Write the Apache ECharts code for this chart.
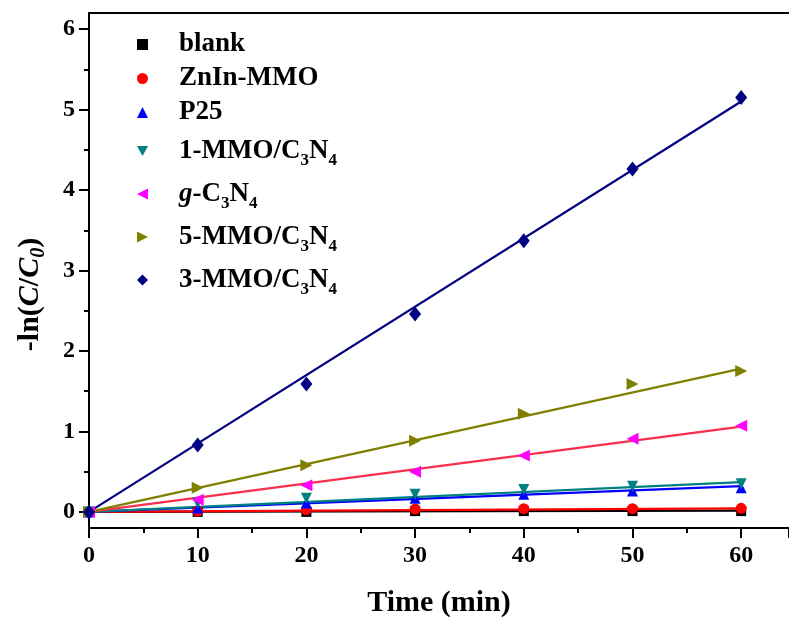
<!DOCTYPE html>
<html>
<head>
<meta charset="utf-8">
<script src="https://cdn.jsdelivr.net/npm/echarts@6/dist/echarts.min.js"></script>
<style>html,body{margin:0;padding:0;background:#fff}#c{width:789px;height:623px}</style>
</head>
<body>
<div id="c"></div>
<script>
const time = [0, 10, 20, 30, 40, 50, 60];
const names = ['blank', 'ZnIn-MMO', 'P25', '1-MMO/C3N4', 'g-C3N4', '5-MMO/C3N4', '3-MMO/C3N4'];
const blank = [0, 0.00, 0.00, 0.01, 0.01, 0.01, 0.01];
const zninMMO = [0, 0.01, 0.03, 0.035, 0.04, 0.04, 0.045];
const p25 = [0, 0.05, 0.11, 0.17, 0.22, 0.26, 0.30];
const mmo1 = [0, 0.11, 0.17, 0.22, 0.28, 0.32, 0.35];
const gC3N4 = [0, 0.15, 0.33, 0.50, 0.70, 0.91, 1.07];
const mmo5 = [0, 0.30, 0.58, 0.885, 1.22, 1.59, 1.75];
const mmo3 = [0, 0.83, 1.59, 2.46, 3.37, 4.26, 5.15];
// linear fit lines (through origin): value at t = 0 and t = 60
const fitX = [0, 60];
const fitEnd = [0.015, 0.045, 0.32, 0.37, 1.06, 1.78, 5.10];
const yTicks = [0, 1, 2, 3, 4, 5, 6];
const yMinorTicks = [0.5, 1.5, 2.5, 3.5, 4.5, 5.5];

const values = [blank, zninMMO, p25, mmo1, gC3N4, mmo5, mmo3];
const markColors = ['#000000', '#ff0000', '#0000ff', '#008080', '#ff00ff', '#808000', '#000080'];
const lineColors = ['#000000', '#ff0000', '#0000ff', '#008080', '#f8304e', '#808000', '#000080'];
const symbols = ['rect', 'circle', 'triangle', 'path://M0,0L10,0L5,9Z', 'path://M10,0L10,10L0,5Z', 'path://M0,0L0,10L10,5Z', 'diamond'];
const sizes = [10, 11, 11, 11, 12, 12, [12, 15]];
const labelMap = {
  'blank': 'blank',
  'ZnIn-MMO': 'ZnIn-MMO',
  'P25': 'P25',
  '1-MMO/C3N4': '1-MMO/C{sub|3}N{sub|4}',
  'g-C3N4': '{it|g}-C{sub|3}N{sub|4}',
  '5-MMO/C3N4': '5-MMO/C{sub|3}N{sub|4}',
  '3-MMO/C3N4': '3-MMO/C{sub|3}N{sub|4}'
};
const FONT = 'Liberation Serif';

const series = [];
names.forEach((n, i) => {
  series.push({
    name: n + ' fit', type: 'line', xAxisIndex: 0, yAxisIndex: 0,
    data: fitX.map((x, k) => [x, k === 0 ? 0 : fitEnd[i]]),
    showSymbol: false, symbol: 'none', silent: true,
    lineStyle: { color: lineColors[i], width: 2.2 }, z: 2
  });
});
names.forEach((n, i) => {
  series.push({
    name: n, type: 'scatter', xAxisIndex: 0, yAxisIndex: 0,
    data: time.map((t, k) => [t, values[i][k]]),
    symbol: symbols[i], symbolSize: sizes[i],
    itemStyle: { color: markColors[i], opacity: 1 }, z: 3
  });
});

const legendData = names.map(n => labelMap[n].indexOf('{sub|') >= 0
  ? { name: n, textStyle: { lineHeight: 36 } }
  : { name: n });

const chart = echarts.init(document.getElementById('c'), null, { renderer: 'canvas' });
chart.setOption({
  animation: false,
  backgroundColor: '#fff',
  grid: { left: 89, right: 0, top: 13, bottom: 93, containLabel: false },
  legend: {
    orient: 'vertical', left: 132, top: 26,
    itemWidth: 11, itemHeight: 11, itemGap: 7,
    symbolKeepAspect: true,
    data: legendData,
    formatter: n => labelMap[n],
    textStyle: {
      fontFamily: FONT, fontWeight: 'bold', fontSize: 27, lineHeight: 24, color: '#000',
      padding: [0, 0, 0, 26],
      rich: {
        sub: { fontFamily: FONT, fontWeight: 'bold', fontSize: 17, padding: [21, 0, 2, 0], color: '#000' },
        it: { fontFamily: FONT, fontWeight: 'bold', fontStyle: 'italic', fontSize: 27, lineHeight: 24, color: '#000' }
      }
    }
  },
  xAxis: [{
    type: 'value', min: 0, max: 64.4, interval: 10, position: 'bottom',
    name: 'Time (min)', nameLocation: 'middle', nameGap: 60,
    nameTextStyle: { fontFamily: FONT, fontWeight: 'bold', fontSize: 30, color: '#000' },
    axisLine: { show: true, onZero: false, lineStyle: { color: '#000', width: 2 } },
    axisTick: { show: true, inside: false, length: 10, lineStyle: { color: '#000', width: 2 } },
    minorTick: { show: true, splitNumber: 2, length: 5, lineStyle: { color: '#000', width: 2 } },
    splitLine: { show: false },
    axisLabel: { show: true, margin: 16, fontFamily: FONT, fontWeight: 'bold', fontSize: 24, color: '#000',
      formatter: v => (v > 60 ? '' : String(v)), showMaxLabel: false }
  }, {
    type: 'value', min: 0, max: 64.4, position: 'top',
    axisLine: { show: true, onZero: false, lineStyle: { color: '#000', width: 2 } },
    axisTick: { show: false }, axisLabel: { show: false }, splitLine: { show: false }
  }],
  yAxis: [{
    type: 'value', min: -0.2, max: 6.2, position: 'left',
    name: '-ln({it|C}/{it|C}{itsub|0})', nameLocation: 'middle', nameRotate: 90, nameGap: 40,
    nameTextStyle: {
      fontFamily: FONT, fontWeight: 'bold', fontSize: 30, color: '#000', padding: [0, 48, 0, 0],
      rich: {
        it: { fontFamily: FONT, fontWeight: 'bold', fontStyle: 'italic', fontSize: 30, color: '#000' },
        itsub: { fontFamily: FONT, fontWeight: 'bold', fontStyle: 'italic', fontSize: 20, padding: [18, 0, 0, 0], color: '#000' }
      }
    },
    axisLine: { show: true, onZero: false, lineStyle: { color: '#000', width: 2 } },
    axisTick: { show: true, inside: false, length: 10, customValues: yTicks, lineStyle: { color: '#000', width: 2 } },
    axisLabel: { show: true, margin: 14, customValues: yTicks, fontFamily: FONT, fontWeight: 'bold', fontSize: 24, color: '#000' },
    splitLine: { show: false }
  }, {
    type: 'value', min: -0.2, max: 6.2, position: 'left',
    axisLine: { show: false },
    axisTick: { show: true, inside: false, length: 5, customValues: yMinorTicks, lineStyle: { color: '#000', width: 2 } },
    axisLabel: { show: false }, splitLine: { show: false }
  }],
  series: series
});
</script>
</body>
</html>
